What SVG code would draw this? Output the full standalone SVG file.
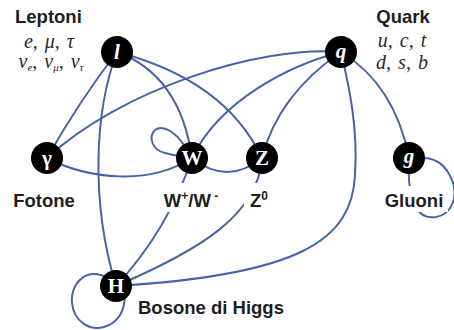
<svg xmlns="http://www.w3.org/2000/svg" width="454" height="330" viewBox="0 0 454 330">
  <style>
    .edge { fill: none; stroke: #4863a8; stroke-width: 2; }
    .dot { fill: #000; }
    .sym { fill: #fff; font-family: "Liberation Serif", "DejaVu Serif", serif; font-weight: bold; font-size: 21px; text-anchor: middle; }
    .lbl { fill: #1e1e1e; font-family: "Liberation Sans", Arial, sans-serif; font-weight: bold; font-size: 18.5px; }
    .mid { text-anchor: middle; }
    .ital { fill: #2a2a2a; font-family: "Liberation Serif", "Times New Roman", serif; font-style: italic; font-size: 20px; word-spacing: 2px; text-anchor: middle; }
    .halo { fill: #fff; }
  </style>

  <!-- interactions between particles -->
  <g id="connectors">
    <path class="edge" d="M117,52 Q80,100 47,158"/>
    <path class="edge" d="M117,52 C95,110 90,200 116,286"/>
    <path class="edge" d="M117,52 Q180,75 192,158"/>
    <path class="edge" d="M117,52 Q225,80 262,158"/>
    <path class="edge" d="M341,52 C260,45 120,90 47,158"/>
    <path class="edge" d="M341,52 C290,65 220,100 192,158"/>
    <path class="edge" d="M341,52 Q278,95 262,158"/>
    <path class="edge" d="M341,52 C350,90 358,130 355,175 C352,240 300,275 116,286"/>
    <path class="edge" d="M341,52 Q395,85 409,158"/>
    <path class="edge" d="M47,158 C90,180 150,185 192,158"/>
    <path class="edge" d="M192,158 Q227,186 262,158"/>
    <path class="edge" d="M192,158 Q168,230 116,286"/>
    <path class="edge" d="M262,158 C258,215 200,250 116,286"/>
    <!-- self loops -->
    <path class="edge" d="M186,148 C176,132 163,124 155,130 C148,137 152,150 165,153 C172,155 178,156 184,156"/>
    <path class="edge" d="M409,160 C407,200 416,220 436,217 C453,214 458,195 452,180 C446,165 435,157 420,158"/>
    <path class="edge" d="M108,278 C85,266 70,285 72,303 C74,322 90,331 104,327 C118,323 127,310 124,290"/>
  </g>

  <!-- leptons -->
  <g id="leptons">
    <text class="lbl" x="15" y="23">Leptoni</text>
    <text class="ital" x="49" y="48">e, μ, τ</text>
    <text class="ital" x="51" y="68">ν<tspan font-size="11" dy="3">e</tspan><tspan dy="-3">, ν</tspan><tspan font-size="11" dy="3">μ</tspan><tspan dy="-3">, ν</tspan><tspan font-size="11" dy="3">τ</tspan></text>
    <circle class="dot" cx="117" cy="52" r="16"/>
    <text class="sym" x="117" y="59" font-style="italic">l</text>
  </g>

  <!-- quarks -->
  <g id="quarks">
    <text class="lbl mid" x="403" y="23">Quark</text>
    <text class="ital" x="402" y="47">u, c, t</text>
    <text class="ital" x="402" y="69">d, s, b</text>
    <circle class="dot" cx="341" cy="52" r="16"/>
    <text class="sym" x="341" y="58" font-style="italic">q</text>
  </g>

  <!-- photon -->
  <g id="photon">
    <circle class="dot" cx="47" cy="158" r="16"/>
    <text class="sym" x="47" y="165">γ</text>
    <text class="lbl mid" x="44" y="207">Fotone</text>
  </g>

  <!-- W boson -->
  <g id="w-boson">
    <circle class="dot" cx="192" cy="158" r="16"/>
    <text class="sym" x="192" y="165">W</text>
    <rect class="halo" x="166" y="183" width="50" height="29"/>
    <text class="lbl mid" x="191" y="207">W<tspan font-size="12" dy="-7">+</tspan><tspan dy="7">/W</tspan><tspan font-size="12" dy="-7"> -</tspan></text>
  </g>

  <!-- Z boson -->
  <g id="z-boson">
    <circle class="dot" cx="262" cy="158" r="16"/>
    <text class="sym" x="262" y="165">Z</text>
    <rect class="halo" x="244" y="183" width="30" height="30"/>
    <text class="lbl mid" x="259" y="207">Z<tspan font-size="12" dy="-7">0</tspan></text>
  </g>

  <!-- gluon -->
  <g id="gluon">
    <circle class="dot" cx="409" cy="158" r="16"/>
    <text class="sym" x="409" y="163" font-style="italic">g</text>
    <rect class="halo" x="382" y="186" width="66" height="26"/>
    <text class="lbl mid" x="414" y="207">Gluoni</text>
  </g>

  <!-- Higgs boson -->
  <g id="higgs">
    <circle class="dot" cx="116" cy="286" r="16"/>
    <text class="sym" x="116" y="293">H</text>
    <text class="lbl" x="138" y="314">Bosone di Higgs</text>
  </g>
</svg>
